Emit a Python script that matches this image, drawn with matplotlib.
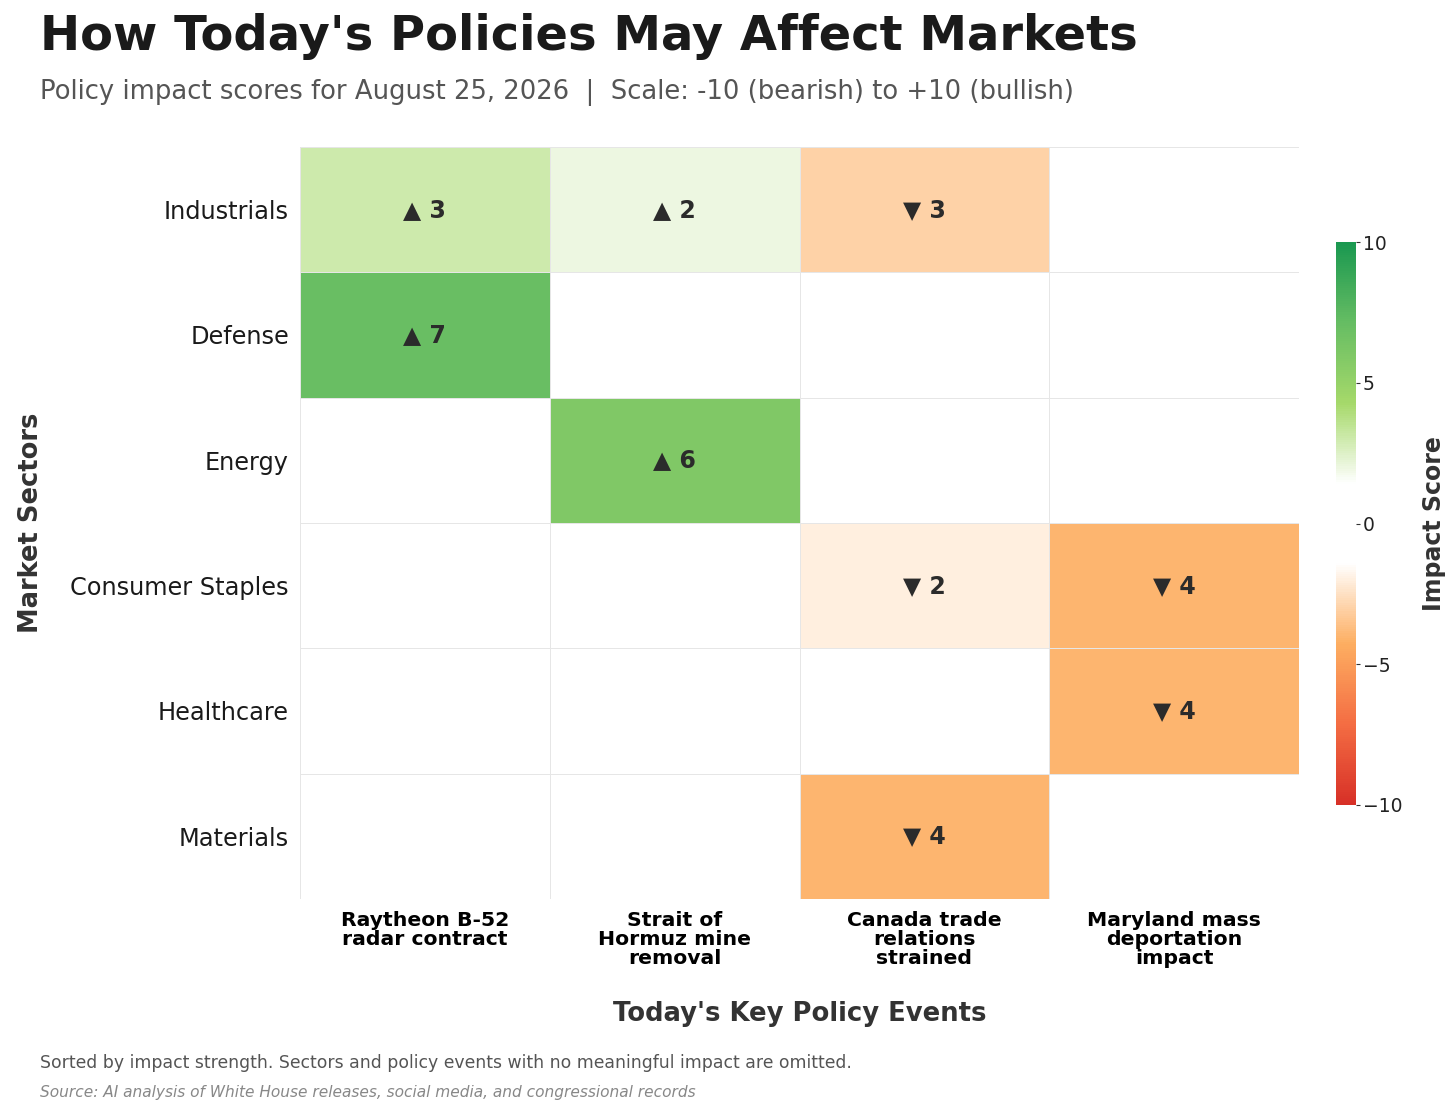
import numpy as np
import matplotlib
matplotlib.use("Agg")
import matplotlib.pyplot as plt
from matplotlib.colors import LinearSegmentedColormap

plt.rcParams['font.family'] = ['DejaVu Sans']

# data
sectors = ["Industrials", "Defense", "Energy", "Consumer Staples", "Healthcare", "Materials"]
events = ["Raytheon B-52\nradar contract",
          "Strait of\nHormuz mine\nremoval",
          "Canada trade\nrelations\nstrained",
          "Maryland mass\ndeportation\nimpact"]
industrials = [3, 2, -3, 0]
defense = [7, 0, 0, 0]
energy = [0, 6, 0, 0]
consumer_staples = [0, 0, -2, -4]
healthcare = [0, 0, 0, -4]
materials = [0, 0, -4, 0]

scores = np.array([industrials, defense, energy, consumer_staples, healthcare, materials])

cmap = LinearSegmentedColormap.from_list(
    "impact", ['#d73027', '#f46d43', '#fdae61', '#ffffff', '#ffffff',
               '#a6d96a', '#66bd63', '#1a9850'])

fig = plt.figure(figsize=(14.56, 11.13), dpi=100)
ax = fig.add_axes([300 / 1456, 1 - 899 / 1113, 999 / 1456, 752 / 1113])
cax = fig.add_axes([1336 / 1456, 1 - 805 / 1113, 20 / 1456, 563 / 1113])

mesh = ax.pcolormesh(scores, cmap=cmap, vmin=-10, vmax=10,
                     edgecolors='#e6e6e6', linewidth=0.6)
ax.set_xlim(0, scores.shape[1])
ax.set_ylim(scores.shape[0], 0)

# cell annotations
for i in range(scores.shape[0]):
    for j in range(scores.shape[1]):
        v = scores[i, j]
        if v == 0:
            continue
        arrow = "\u25B2" if v > 0 else "\u25BC"
        ax.text(j + 0.5, i + 0.5, f"{arrow} {abs(v)}", ha='center', va='center',
                fontsize=17, fontweight='bold', color='#2b2b2b')

ax.set_xticks(np.arange(len(events)) + 0.5)
ax.set_xticklabels(events, fontsize=14.7, fontweight='bold', color='black', linespacing=0.98)
ax.set_yticks(np.arange(len(sectors)) + 0.5)
ax.set_yticklabels(sectors, fontsize=17.3, color='#1a1a1a')
ax.tick_params(axis='y', length=0, pad=8)
ax.tick_params(axis='x', length=0, pad=9)
for s in ax.spines.values():
    s.set_visible(False)

ax.set_xlabel("Today's Key Policy Events", fontsize=18.6, fontweight='bold',
              color='#333333', labelpad=24)
ax.set_ylabel("Market Sectors", fontsize=18.5, fontweight='bold',
              color='#333333', labelpad=19)

cb = fig.colorbar(mesh, cax=cax, ticks=[-10, -5, 0, 5, 10])
cb.outline.set_visible(False)
cb.ax.tick_params(labelsize=13.5, length=3, pad=2, color='#333333', labelcolor='#222222')
cb.set_label("Impact Score", fontsize=17, fontweight='bold', color='#333333', labelpad=14)

fig.text(40 / 1456, 1 - 36 / 1113, "How Today's Policies May Affect Markets",
         fontsize=34.6, fontweight='bold', color='#1a1a1a', va='center', ha='left')
fig.text(40 / 1456, 1 - 92 / 1113,
         "Policy impact scores for August 25, 2026  |  Scale: -10 (bearish) to +10 (bullish)",
         fontsize=18.6, color='#555555', va='center', ha='left')
fig.text(40 / 1456, 1 - 1063 / 1113,
         "Sorted by impact strength. Sectors and policy events with no meaningful impact are omitted.",
         fontsize=12.45, color='#555555', va='center', ha='left')
fig.text(40 / 1456, 1 - 1092 / 1113,
         "Source: AI analysis of White House releases, social media, and congressional records",
         fontsize=11.1, color='#888888', style='italic', va='center', ha='left')

fig.savefig("out.png", dpi=100)
